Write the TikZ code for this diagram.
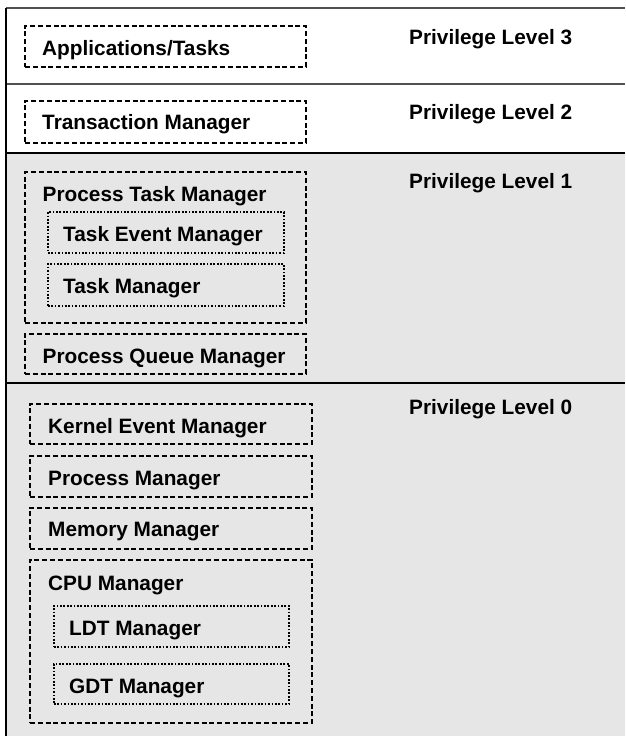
\documentclass[tikz,border=0pt]{standalone}
\usepackage{fontspec}
\setmainfont{Liberation Sans}
\definecolor{bandgray}{RGB}{230,230,230}
\definecolor{linegray}{RGB}{80,80,80}
\begin{document}
\begin{tikzpicture}[x=1pt,y=-1pt,
  lbl/.style={anchor=west,inner sep=0pt,font=\fontsize{20.8}{24}\selectfont\bfseries,text height=15pt,text depth=0pt},
  dashbox/.style={draw=black,line width=2pt,dash pattern=on 5pt off 2.8pt,anchor=north west,inner sep=0pt},
  dotbox/.style={draw=black,line width=1.8pt,dash pattern=on 1.7pt off 1.7pt,anchor=north west,inner sep=0pt},
  sepline/.style={line width=1.5pt}]
\useasboundingbox (0,0) rectangle (625,736);
\fill[white] (0,0) rectangle (625,736);
\fill[bandgray] (6,153) rectangle (625,736);
\draw[sepline,draw=linegray] (6,8) -- (625,8);
\draw[sepline,draw=linegray] (6,84) -- (625,84);
\draw[sepline] (6,153) -- (625,153);
\draw[sepline] (6,383) -- (625,383);
\draw[sepline] (6,8) -- (6,736);

% Level 3
\node[dashbox,minimum width=281pt,minimum height=41pt] (appbox) at (24,25) {};
\node[lbl] (app) at (42,48) {Applications/Tasks};
\node[lbl] (pl3) at (409,36.5) {Privilege Level 3};

% Level 2
\node[dashbox,minimum width=281pt,minimum height=42pt] (trbox) at (24,100) {};
\node[lbl] (tr) at (42,122) {Transaction Manager};
\node[lbl] (pl2) at (409,112) {Privilege Level 2};

% Level 1
\node[dashbox,minimum width=281pt,minimum height=151pt] (ptmbox) at (24,171) {};
\node[lbl] (ptm) at (42.5,193.5) {Process Task Manager};
\node[dotbox,minimum width=236pt,minimum height=41pt] (tembox) at (47,211) {};
\node[lbl] (tem) at (63,234) {Task Event Manager};
\node[dotbox,minimum width=236pt,minimum height=42pt] (tmbox) at (47,263) {};
\node[lbl] (tm) at (63,286) {Task Manager};
\node[dashbox,minimum width=281pt,minimum height=40pt] (pqmbox) at (24,333) {};
\node[lbl] (pqm) at (42.5,356) {Process Queue Manager};
\node[lbl] (pl1) at (409,181) {Privilege Level 1};

% Level 0
\node[dashbox,minimum width=282pt,minimum height=40pt] (kembox) at (29,403) {};
\node[lbl] (kem) at (48,426) {Kernel Event Manager};
\node[dashbox,minimum width=282pt,minimum height=41pt] (pmbox) at (29,455) {};
\node[lbl] (pm) at (48,477.5) {Process Manager};
\node[dashbox,minimum width=282pt,minimum height=41pt] (mmbox) at (29,507) {};
\node[lbl] (mm) at (48,529) {Memory Manager};
\node[dashbox,minimum width=282pt,minimum height=163pt] (cpubox) at (29,559) {};
\node[lbl] (cpu) at (48,582.5) {CPU Manager};
\node[dotbox,minimum width=235pt,minimum height=41pt] (ldtbox) at (53,605) {};
\node[lbl] (ldt) at (69,627.5) {LDT Manager};
\node[dotbox,minimum width=235pt,minimum height=40pt] (gdtbox) at (53,663) {};
\node[lbl] (gdt) at (69,685.5) {GDT Manager};
\node[lbl] (pl0) at (409,406.5) {Privilege Level 0};
\end{tikzpicture}
\end{document}
